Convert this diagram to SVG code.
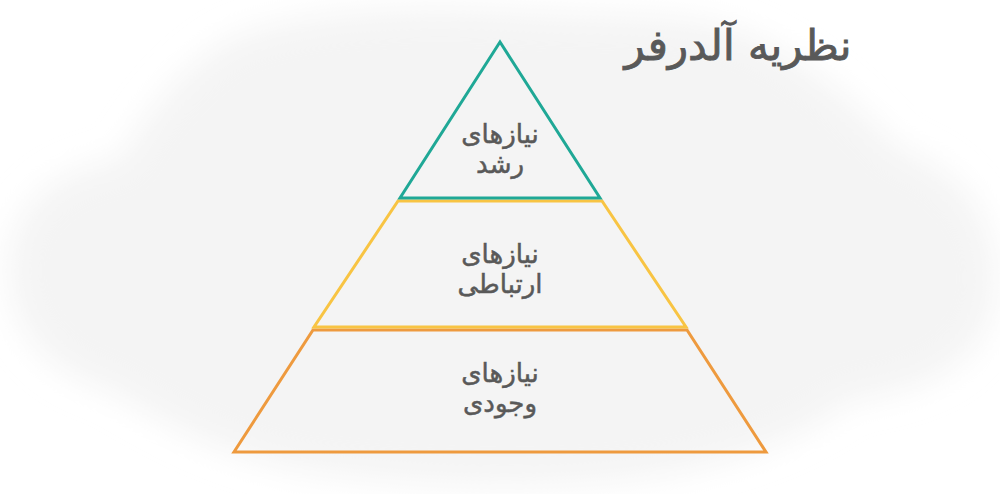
<svg xmlns="http://www.w3.org/2000/svg" width="1000" height="494" viewBox="0 0 1000 494">
  <defs>
    <filter id="soft" x="-20%" y="-20%" width="140%" height="140%">
      <feGaussianBlur stdDeviation="16"/>
    </filter>
  </defs>
  <style>
    .lbl { font-family: "DejaVu Sans", "Noto Sans", sans-serif; font-size: 26px; fill: #595959; stroke: #595959; stroke-width: 0.5; text-anchor: middle; }
    .title { font-family: "DejaVu Sans", "Noto Sans", sans-serif; font-size: 42px; fill: #595959; stroke: #595959; stroke-width: 0.9; text-anchor: middle; }
    .shape { fill: none; stroke-width: 3; stroke-linejoin: miter; }
  </style>
  <rect width="1000" height="494" fill="#ffffff"/>
  <g id="background" filter="url(#soft)">
    <path d="M 230 40 C 300 10 420 5 520 12 C 620 18 700 10 760 40 C 820 70 860 110 900 150 C 960 170 1000 220 995 290 C 990 360 930 390 850 400 C 800 440 720 470 620 480 C 520 490 400 485 300 470 C 220 455 160 420 110 390 C 40 370 5 320 10 260 C 15 200 60 170 120 160 C 150 110 180 70 230 40 Z" fill="#f4f4f4"/>
  </g>
  <g id="node-title">
    <text class="title" x="738" y="60" direction="rtl">نظریه آلدرفر</text>
  </g>
  <g id="node-existence">
    <polygon class="shape" points="313,330 687,330 766,452 234,452" stroke="#ee9a3e"/>
    <text class="lbl" x="500" y="382" direction="rtl">نیازهای</text>
    <text class="lbl" x="500" y="412" direction="rtl">وجودی</text>
  </g>
  <g id="node-relatedness">
    <polygon class="shape" points="398,201 602,201 686,327 314,327" stroke="#f8c443"/>
    <text class="lbl" x="500" y="263" direction="rtl">نیازهای</text>
    <text class="lbl" x="500" y="293" direction="rtl">ارتباطی</text>
  </g>
  <g id="node-growth">
    <polygon class="shape" points="500,42 600,198 400,198" stroke="#1fa896"/>
    <text class="lbl" x="500" y="143" direction="rtl">نیازهای</text>
    <text class="lbl" x="500" y="173" direction="rtl">رشد</text>
  </g>
  <g id="connectors"></g>
</svg>
